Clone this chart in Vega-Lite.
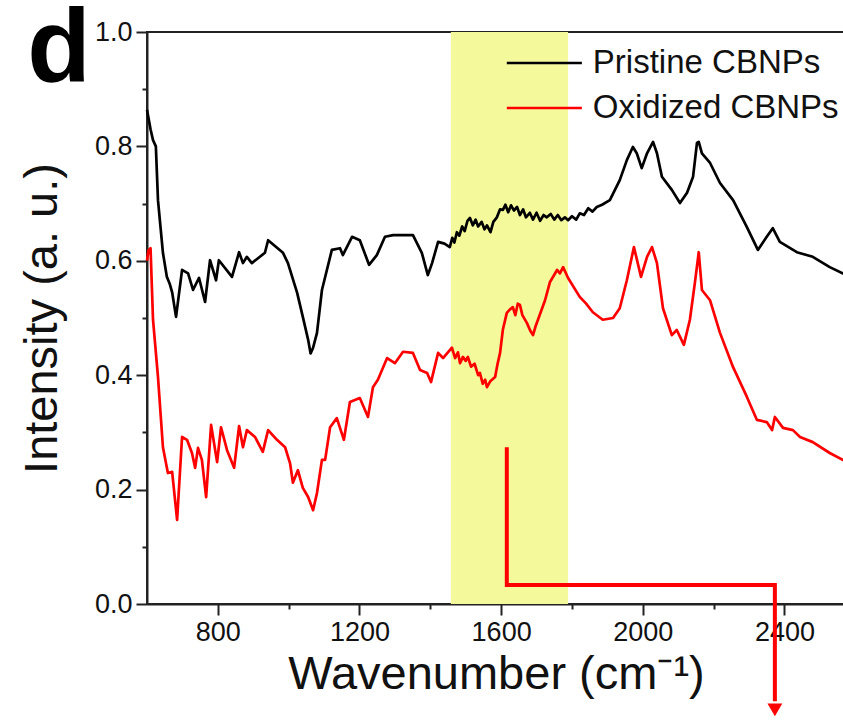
{
  "$schema": "https://vega.github.io/schema/vega-lite/v6.json",
  "width": 698,
  "height": 572,
  "autosize": {"type": "none"},
  "padding": {"left": 147, "top": 32, "right": 0, "bottom": 117},
  "background": "white",
  "config": {
    "view": {"stroke": "#222", "strokeWidth": 2},
    "font": "Liberation Sans"
  },
  "datasets": {
    "spectra": [
      {"series": "Pristine CBNPs", "wn": 600, "intensity": 0.864},
      {"series": "Pristine CBNPs", "wn": 610, "intensity": 0.83},
      {"series": "Pristine CBNPs", "wn": 617, "intensity": 0.811},
      {"series": "Pristine CBNPs", "wn": 625, "intensity": 0.8},
      {"series": "Pristine CBNPs", "wn": 631, "intensity": 0.706},
      {"series": "Pristine CBNPs", "wn": 645, "intensity": 0.614},
      {"series": "Pristine CBNPs", "wn": 656, "intensity": 0.572},
      {"series": "Pristine CBNPs", "wn": 664, "intensity": 0.56},
      {"series": "Pristine CBNPs", "wn": 671, "intensity": 0.545},
      {"series": "Pristine CBNPs", "wn": 682, "intensity": 0.502},
      {"series": "Pristine CBNPs", "wn": 699, "intensity": 0.584},
      {"series": "Pristine CBNPs", "wn": 716, "intensity": 0.578},
      {"series": "Pristine CBNPs", "wn": 730, "intensity": 0.549},
      {"series": "Pristine CBNPs", "wn": 747, "intensity": 0.57},
      {"series": "Pristine CBNPs", "wn": 764, "intensity": 0.528},
      {"series": "Pristine CBNPs", "wn": 778, "intensity": 0.601},
      {"series": "Pristine CBNPs", "wn": 795, "intensity": 0.566},
      {"series": "Pristine CBNPs", "wn": 803, "intensity": 0.601},
      {"series": "Pristine CBNPs", "wn": 840, "intensity": 0.572},
      {"series": "Pristine CBNPs", "wn": 860, "intensity": 0.615},
      {"series": "Pristine CBNPs", "wn": 871, "intensity": 0.596},
      {"series": "Pristine CBNPs", "wn": 882, "intensity": 0.607},
      {"series": "Pristine CBNPs", "wn": 896, "intensity": 0.596},
      {"series": "Pristine CBNPs", "wn": 933, "intensity": 0.614},
      {"series": "Pristine CBNPs", "wn": 942, "intensity": 0.636},
      {"series": "Pristine CBNPs", "wn": 984, "intensity": 0.614},
      {"series": "Pristine CBNPs", "wn": 998, "intensity": 0.596},
      {"series": "Pristine CBNPs", "wn": 1024, "intensity": 0.544},
      {"series": "Pristine CBNPs", "wn": 1040, "intensity": 0.502},
      {"series": "Pristine CBNPs", "wn": 1055, "intensity": 0.462},
      {"series": "Pristine CBNPs", "wn": 1062, "intensity": 0.438},
      {"series": "Pristine CBNPs", "wn": 1069, "intensity": 0.448},
      {"series": "Pristine CBNPs", "wn": 1080, "intensity": 0.474},
      {"series": "Pristine CBNPs", "wn": 1094, "intensity": 0.549},
      {"series": "Pristine CBNPs", "wn": 1122, "intensity": 0.619},
      {"series": "Pristine CBNPs", "wn": 1145, "intensity": 0.622},
      {"series": "Pristine CBNPs", "wn": 1153, "intensity": 0.61},
      {"series": "Pristine CBNPs", "wn": 1179, "intensity": 0.642},
      {"series": "Pristine CBNPs", "wn": 1201, "intensity": 0.636},
      {"series": "Pristine CBNPs", "wn": 1227, "intensity": 0.593},
      {"series": "Pristine CBNPs", "wn": 1249, "intensity": 0.61},
      {"series": "Pristine CBNPs", "wn": 1272, "intensity": 0.642},
      {"series": "Pristine CBNPs", "wn": 1295, "intensity": 0.645},
      {"series": "Pristine CBNPs", "wn": 1351, "intensity": 0.645},
      {"series": "Pristine CBNPs", "wn": 1376, "intensity": 0.614},
      {"series": "Pristine CBNPs", "wn": 1393, "intensity": 0.575},
      {"series": "Pristine CBNPs", "wn": 1405, "intensity": 0.596},
      {"series": "Pristine CBNPs", "wn": 1422, "intensity": 0.633},
      {"series": "Pristine CBNPs", "wn": 1440, "intensity": 0.63},
      {"series": "Pristine CBNPs", "wn": 1455, "intensity": 0.624},
      {"series": "Pristine CBNPs", "wn": 1462, "intensity": 0.64},
      {"series": "Pristine CBNPs", "wn": 1468, "intensity": 0.632},
      {"series": "Pristine CBNPs", "wn": 1475, "intensity": 0.65},
      {"series": "Pristine CBNPs", "wn": 1482, "intensity": 0.644},
      {"series": "Pristine CBNPs", "wn": 1490, "intensity": 0.66},
      {"series": "Pristine CBNPs", "wn": 1497, "intensity": 0.652},
      {"series": "Pristine CBNPs", "wn": 1505, "intensity": 0.67},
      {"series": "Pristine CBNPs", "wn": 1512, "intensity": 0.675},
      {"series": "Pristine CBNPs", "wn": 1520, "intensity": 0.662},
      {"series": "Pristine CBNPs", "wn": 1528, "intensity": 0.672},
      {"series": "Pristine CBNPs", "wn": 1535, "intensity": 0.66},
      {"series": "Pristine CBNPs", "wn": 1545, "intensity": 0.668},
      {"series": "Pristine CBNPs", "wn": 1553, "intensity": 0.655},
      {"series": "Pristine CBNPs", "wn": 1560, "intensity": 0.662},
      {"series": "Pristine CBNPs", "wn": 1570, "intensity": 0.65},
      {"series": "Pristine CBNPs", "wn": 1578, "intensity": 0.668},
      {"series": "Pristine CBNPs", "wn": 1588, "intensity": 0.676},
      {"series": "Pristine CBNPs", "wn": 1597, "intensity": 0.69},
      {"series": "Pristine CBNPs", "wn": 1605, "intensity": 0.689},
      {"series": "Pristine CBNPs", "wn": 1612, "intensity": 0.698},
      {"series": "Pristine CBNPs", "wn": 1620, "intensity": 0.685},
      {"series": "Pristine CBNPs", "wn": 1628, "intensity": 0.697},
      {"series": "Pristine CBNPs", "wn": 1636, "intensity": 0.688},
      {"series": "Pristine CBNPs", "wn": 1645, "intensity": 0.694},
      {"series": "Pristine CBNPs", "wn": 1653, "intensity": 0.68},
      {"series": "Pristine CBNPs", "wn": 1662, "intensity": 0.69},
      {"series": "Pristine CBNPs", "wn": 1670, "intensity": 0.676},
      {"series": "Pristine CBNPs", "wn": 1681, "intensity": 0.684},
      {"series": "Pristine CBNPs", "wn": 1690, "intensity": 0.672},
      {"series": "Pristine CBNPs", "wn": 1700, "intensity": 0.684},
      {"series": "Pristine CBNPs", "wn": 1710, "intensity": 0.67},
      {"series": "Pristine CBNPs", "wn": 1720, "intensity": 0.68},
      {"series": "Pristine CBNPs", "wn": 1729, "intensity": 0.676},
      {"series": "Pristine CBNPs", "wn": 1740, "intensity": 0.682},
      {"series": "Pristine CBNPs", "wn": 1750, "intensity": 0.672},
      {"series": "Pristine CBNPs", "wn": 1760, "intensity": 0.68},
      {"series": "Pristine CBNPs", "wn": 1770, "intensity": 0.671},
      {"series": "Pristine CBNPs", "wn": 1780, "intensity": 0.676},
      {"series": "Pristine CBNPs", "wn": 1789, "intensity": 0.671},
      {"series": "Pristine CBNPs", "wn": 1800, "intensity": 0.678},
      {"series": "Pristine CBNPs", "wn": 1812, "intensity": 0.672},
      {"series": "Pristine CBNPs", "wn": 1822, "intensity": 0.683},
      {"series": "Pristine CBNPs", "wn": 1834, "intensity": 0.68},
      {"series": "Pristine CBNPs", "wn": 1846, "intensity": 0.692},
      {"series": "Pristine CBNPs", "wn": 1858, "intensity": 0.686},
      {"series": "Pristine CBNPs", "wn": 1870, "intensity": 0.694},
      {"series": "Pristine CBNPs", "wn": 1885, "intensity": 0.698},
      {"series": "Pristine CBNPs", "wn": 1907, "intensity": 0.706},
      {"series": "Pristine CBNPs", "wn": 1935, "intensity": 0.741},
      {"series": "Pristine CBNPs", "wn": 1955, "intensity": 0.776},
      {"series": "Pristine CBNPs", "wn": 1972, "intensity": 0.799},
      {"series": "Pristine CBNPs", "wn": 1983, "intensity": 0.788},
      {"series": "Pristine CBNPs", "wn": 1997, "intensity": 0.762},
      {"series": "Pristine CBNPs", "wn": 2012, "intensity": 0.788},
      {"series": "Pristine CBNPs", "wn": 2029, "intensity": 0.808},
      {"series": "Pristine CBNPs", "wn": 2040, "intensity": 0.788},
      {"series": "Pristine CBNPs", "wn": 2054, "intensity": 0.747},
      {"series": "Pristine CBNPs", "wn": 2082, "intensity": 0.724},
      {"series": "Pristine CBNPs", "wn": 2105, "intensity": 0.701},
      {"series": "Pristine CBNPs", "wn": 2125, "intensity": 0.719},
      {"series": "Pristine CBNPs", "wn": 2142, "intensity": 0.747},
      {"series": "Pristine CBNPs", "wn": 2153, "intensity": 0.806},
      {"series": "Pristine CBNPs", "wn": 2158, "intensity": 0.808},
      {"series": "Pristine CBNPs", "wn": 2167, "intensity": 0.788},
      {"series": "Pristine CBNPs", "wn": 2190, "intensity": 0.771},
      {"series": "Pristine CBNPs", "wn": 2218, "intensity": 0.736},
      {"series": "Pristine CBNPs", "wn": 2255, "intensity": 0.706},
      {"series": "Pristine CBNPs", "wn": 2294, "intensity": 0.659},
      {"series": "Pristine CBNPs", "wn": 2325, "intensity": 0.619},
      {"series": "Pristine CBNPs", "wn": 2350, "intensity": 0.642},
      {"series": "Pristine CBNPs", "wn": 2367, "intensity": 0.657},
      {"series": "Pristine CBNPs", "wn": 2387, "intensity": 0.633},
      {"series": "Pristine CBNPs", "wn": 2435, "intensity": 0.615},
      {"series": "Pristine CBNPs", "wn": 2480, "intensity": 0.607},
      {"series": "Pristine CBNPs", "wn": 2528, "intensity": 0.589},
      {"series": "Pristine CBNPs", "wn": 2571, "intensity": 0.576},
      {"series": "Oxidized CBNPs", "wn": 600, "intensity": 0.6},
      {"series": "Oxidized CBNPs", "wn": 604, "intensity": 0.618},
      {"series": "Oxidized CBNPs", "wn": 610, "intensity": 0.622},
      {"series": "Oxidized CBNPs", "wn": 617, "intensity": 0.497},
      {"series": "Oxidized CBNPs", "wn": 631, "intensity": 0.397},
      {"series": "Oxidized CBNPs", "wn": 645, "intensity": 0.274},
      {"series": "Oxidized CBNPs", "wn": 659, "intensity": 0.229},
      {"series": "Oxidized CBNPs", "wn": 671, "intensity": 0.231},
      {"series": "Oxidized CBNPs", "wn": 685, "intensity": 0.147},
      {"series": "Oxidized CBNPs", "wn": 699, "intensity": 0.292},
      {"series": "Oxidized CBNPs", "wn": 713, "intensity": 0.287},
      {"series": "Oxidized CBNPs", "wn": 727, "intensity": 0.264},
      {"series": "Oxidized CBNPs", "wn": 736, "intensity": 0.238},
      {"series": "Oxidized CBNPs", "wn": 744, "intensity": 0.273},
      {"series": "Oxidized CBNPs", "wn": 755, "intensity": 0.252},
      {"series": "Oxidized CBNPs", "wn": 767, "intensity": 0.187},
      {"series": "Oxidized CBNPs", "wn": 781, "intensity": 0.313},
      {"series": "Oxidized CBNPs", "wn": 798, "intensity": 0.248},
      {"series": "Oxidized CBNPs", "wn": 809, "intensity": 0.309},
      {"series": "Oxidized CBNPs", "wn": 826, "intensity": 0.269},
      {"series": "Oxidized CBNPs", "wn": 846, "intensity": 0.238},
      {"series": "Oxidized CBNPs", "wn": 860, "intensity": 0.311},
      {"series": "Oxidized CBNPs", "wn": 871, "intensity": 0.274},
      {"series": "Oxidized CBNPs", "wn": 882, "intensity": 0.304},
      {"series": "Oxidized CBNPs", "wn": 905, "intensity": 0.292},
      {"series": "Oxidized CBNPs", "wn": 927, "intensity": 0.266},
      {"series": "Oxidized CBNPs", "wn": 942, "intensity": 0.304},
      {"series": "Oxidized CBNPs", "wn": 967, "intensity": 0.287},
      {"series": "Oxidized CBNPs", "wn": 990, "intensity": 0.274},
      {"series": "Oxidized CBNPs", "wn": 1004, "intensity": 0.246},
      {"series": "Oxidized CBNPs", "wn": 1012, "intensity": 0.212},
      {"series": "Oxidized CBNPs", "wn": 1026, "intensity": 0.234},
      {"series": "Oxidized CBNPs", "wn": 1040, "intensity": 0.203},
      {"series": "Oxidized CBNPs", "wn": 1055, "intensity": 0.187},
      {"series": "Oxidized CBNPs", "wn": 1069, "intensity": 0.164},
      {"series": "Oxidized CBNPs", "wn": 1080, "intensity": 0.194},
      {"series": "Oxidized CBNPs", "wn": 1094, "intensity": 0.252},
      {"series": "Oxidized CBNPs", "wn": 1103, "intensity": 0.252},
      {"series": "Oxidized CBNPs", "wn": 1117, "intensity": 0.309},
      {"series": "Oxidized CBNPs", "wn": 1136, "intensity": 0.325},
      {"series": "Oxidized CBNPs", "wn": 1156, "intensity": 0.287},
      {"series": "Oxidized CBNPs", "wn": 1173, "intensity": 0.353},
      {"series": "Oxidized CBNPs", "wn": 1201, "intensity": 0.36},
      {"series": "Oxidized CBNPs", "wn": 1224, "intensity": 0.327},
      {"series": "Oxidized CBNPs", "wn": 1238, "intensity": 0.379},
      {"series": "Oxidized CBNPs", "wn": 1252, "intensity": 0.392},
      {"series": "Oxidized CBNPs", "wn": 1278, "intensity": 0.43},
      {"series": "Oxidized CBNPs", "wn": 1300, "intensity": 0.421},
      {"series": "Oxidized CBNPs", "wn": 1323, "intensity": 0.441},
      {"series": "Oxidized CBNPs", "wn": 1351, "intensity": 0.439},
      {"series": "Oxidized CBNPs", "wn": 1371, "intensity": 0.409},
      {"series": "Oxidized CBNPs", "wn": 1391, "intensity": 0.404},
      {"series": "Oxidized CBNPs", "wn": 1402, "intensity": 0.388},
      {"series": "Oxidized CBNPs", "wn": 1422, "intensity": 0.439},
      {"series": "Oxidized CBNPs", "wn": 1436, "intensity": 0.43},
      {"series": "Oxidized CBNPs", "wn": 1461, "intensity": 0.448},
      {"series": "Oxidized CBNPs", "wn": 1470, "intensity": 0.43},
      {"series": "Oxidized CBNPs", "wn": 1478, "intensity": 0.44},
      {"series": "Oxidized CBNPs", "wn": 1484, "intensity": 0.421},
      {"series": "Oxidized CBNPs", "wn": 1492, "intensity": 0.432},
      {"series": "Oxidized CBNPs", "wn": 1500, "intensity": 0.425},
      {"series": "Oxidized CBNPs", "wn": 1506, "intensity": 0.432},
      {"series": "Oxidized CBNPs", "wn": 1515, "intensity": 0.415},
      {"series": "Oxidized CBNPs", "wn": 1525, "intensity": 0.42},
      {"series": "Oxidized CBNPs", "wn": 1535, "intensity": 0.4},
      {"series": "Oxidized CBNPs", "wn": 1540, "intensity": 0.404},
      {"series": "Oxidized CBNPs", "wn": 1548, "intensity": 0.385},
      {"series": "Oxidized CBNPs", "wn": 1555, "intensity": 0.392},
      {"series": "Oxidized CBNPs", "wn": 1560, "intensity": 0.379},
      {"series": "Oxidized CBNPs", "wn": 1570, "intensity": 0.39},
      {"series": "Oxidized CBNPs", "wn": 1583, "intensity": 0.397},
      {"series": "Oxidized CBNPs", "wn": 1590, "intensity": 0.42},
      {"series": "Oxidized CBNPs", "wn": 1597, "intensity": 0.439},
      {"series": "Oxidized CBNPs", "wn": 1605, "intensity": 0.48},
      {"series": "Oxidized CBNPs", "wn": 1616, "intensity": 0.509},
      {"series": "Oxidized CBNPs", "wn": 1625, "intensity": 0.515},
      {"series": "Oxidized CBNPs", "wn": 1633, "intensity": 0.519},
      {"series": "Oxidized CBNPs", "wn": 1640, "intensity": 0.505},
      {"series": "Oxidized CBNPs", "wn": 1647, "intensity": 0.525},
      {"series": "Oxidized CBNPs", "wn": 1653, "intensity": 0.523},
      {"series": "Oxidized CBNPs", "wn": 1660, "intensity": 0.505},
      {"series": "Oxidized CBNPs", "wn": 1673, "intensity": 0.491},
      {"series": "Oxidized CBNPs", "wn": 1682, "intensity": 0.478},
      {"series": "Oxidized CBNPs", "wn": 1690, "intensity": 0.47},
      {"series": "Oxidized CBNPs", "wn": 1697, "intensity": 0.485},
      {"series": "Oxidized CBNPs", "wn": 1704, "intensity": 0.497},
      {"series": "Oxidized CBNPs", "wn": 1724, "intensity": 0.531},
      {"series": "Oxidized CBNPs", "wn": 1738, "intensity": 0.563},
      {"series": "Oxidized CBNPs", "wn": 1758, "intensity": 0.584},
      {"series": "Oxidized CBNPs", "wn": 1766, "intensity": 0.578},
      {"series": "Oxidized CBNPs", "wn": 1775, "intensity": 0.589},
      {"series": "Oxidized CBNPs", "wn": 1789, "intensity": 0.57},
      {"series": "Oxidized CBNPs", "wn": 1822, "intensity": 0.537},
      {"series": "Oxidized CBNPs", "wn": 1840, "intensity": 0.525},
      {"series": "Oxidized CBNPs", "wn": 1859, "intensity": 0.51},
      {"series": "Oxidized CBNPs", "wn": 1887, "intensity": 0.497},
      {"series": "Oxidized CBNPs", "wn": 1916, "intensity": 0.5},
      {"series": "Oxidized CBNPs", "wn": 1935, "intensity": 0.517},
      {"series": "Oxidized CBNPs", "wn": 1955, "intensity": 0.566},
      {"series": "Oxidized CBNPs", "wn": 1975, "intensity": 0.624},
      {"series": "Oxidized CBNPs", "wn": 1995, "intensity": 0.572},
      {"series": "Oxidized CBNPs", "wn": 2012, "intensity": 0.607},
      {"series": "Oxidized CBNPs", "wn": 2026, "intensity": 0.624},
      {"series": "Oxidized CBNPs", "wn": 2040, "intensity": 0.596},
      {"series": "Oxidized CBNPs", "wn": 2057, "intensity": 0.517},
      {"series": "Oxidized CBNPs", "wn": 2082, "intensity": 0.47},
      {"series": "Oxidized CBNPs", "wn": 2096, "intensity": 0.479},
      {"series": "Oxidized CBNPs", "wn": 2116, "intensity": 0.453},
      {"series": "Oxidized CBNPs", "wn": 2133, "intensity": 0.497},
      {"series": "Oxidized CBNPs", "wn": 2147, "intensity": 0.561},
      {"series": "Oxidized CBNPs", "wn": 2158, "intensity": 0.615},
      {"series": "Oxidized CBNPs", "wn": 2167, "intensity": 0.549},
      {"series": "Oxidized CBNPs", "wn": 2190, "intensity": 0.531},
      {"series": "Oxidized CBNPs", "wn": 2218, "intensity": 0.474},
      {"series": "Oxidized CBNPs", "wn": 2255, "intensity": 0.414},
      {"series": "Oxidized CBNPs", "wn": 2294, "intensity": 0.362},
      {"series": "Oxidized CBNPs", "wn": 2322, "intensity": 0.322},
      {"series": "Oxidized CBNPs", "wn": 2350, "intensity": 0.318},
      {"series": "Oxidized CBNPs", "wn": 2365, "intensity": 0.304},
      {"series": "Oxidized CBNPs", "wn": 2373, "intensity": 0.327},
      {"series": "Oxidized CBNPs", "wn": 2396, "intensity": 0.308},
      {"series": "Oxidized CBNPs", "wn": 2424, "intensity": 0.304},
      {"series": "Oxidized CBNPs", "wn": 2444, "intensity": 0.292},
      {"series": "Oxidized CBNPs", "wn": 2480, "intensity": 0.283},
      {"series": "Oxidized CBNPs", "wn": 2528, "intensity": 0.264},
      {"series": "Oxidized CBNPs", "wn": 2571, "intensity": 0.25}
    ],
    "band": [{"wn": 1458, "wn2": 1789, "intensity": 0, "intensity2": 1}],
    "legendItems": [
      {"series": "Pristine CBNPs", "wn": 1616, "wn2": 1828, "intensity": 0.946, "labelWn": 1859},
      {"series": "Oxidized CBNPs", "wn": 1616, "wn2": 1828, "intensity": 0.867, "labelWn": 1859}
    ],
    "panelLabel": [{"label": "d", "wn": 262, "intensity": 0.914}],
    "arrow": [
      {"k": 1, "wn": 1616, "intensity": 0.274},
      {"k": 2, "wn": 1616, "intensity": 0.033},
      {"k": 3, "wn": 2373, "intensity": 0.033},
      {"k": 4, "wn": 2373, "intensity": -0.17}
    ],
    "arrowHead": [{"wn": 2373, "intensity": -0.185}]
  },
  "encoding": {
    "x": {
      "field": "wn",
      "type": "quantitative",
      "title": "Wavenumber (cm⁻¹)",
      "scale": {"domain": [600, 2571], "nice": false, "zero": false},
      "axis": {
        "values": [800, 1000, 1200, 1400, 1600, 1800, 2000, 2200, 2400],
        "labelExpr": "datum.value % 400 === 0 ? datum.label : ''",
        "format": "d",
        "grid": false,
        "domainColor": "#222",
        "domainWidth": 2,
        "tickColor": "#222",
        "tickWidth": 2,
        "tickSize": {"condition": {"test": "datum.value % 400 === 0", "value": 11}, "value": 5},
        "labelFont": "Liberation Sans",
        "labelFontSize": 27,
        "labelColor": "#111",
        "labelPadding": 4,
        "titleFont": "Liberation Sans",
        "titleFontSize": 47,
        "titleFontWeight": "normal",
        "titleColor": "#111",
        "titlePadding": 6
      }
    },
    "y": {
      "field": "intensity",
      "type": "quantitative",
      "title": "Intensity (a. u.)",
      "scale": {"domain": [0, 1], "nice": false},
      "axis": {
        "values": [0, 0.1, 0.2, 0.3, 0.4, 0.5, 0.6, 0.7, 0.8, 0.9, 1.0],
        "format": ".1f",
        "labelExpr": "round(datum.value * 10) % 2 === 0 ? datum.label : ''",
        "grid": false,
        "domainColor": "#222",
        "domainWidth": 2,
        "tickColor": "#222",
        "tickWidth": 2,
        "tickSize": {"condition": {"test": "round(datum.value * 10) % 2 === 0", "value": 11}, "value": 5},
        "labelFont": "Liberation Sans",
        "labelFontSize": 27,
        "labelColor": "#111",
        "labelPadding": 4,
        "titleFont": "Liberation Sans",
        "titleFontSize": 47,
        "titleFontWeight": "normal",
        "titleColor": "#111",
        "titlePadding": 28
      }
    }
  },
  "layer": [
    {
      "data": {"name": "band"},
      "mark": {"type": "rect", "color": "#f4f99c"},
      "encoding": {
        "x2": {"field": "wn2"},
        "y2": {"field": "intensity2"}
      }
    },
    {
      "data": {"name": "spectra"},
      "mark": {"type": "line", "strokeWidth": 2.7, "strokeJoin": "round"},
      "encoding": {
        "color": {
          "field": "series",
          "type": "nominal",
          "scale": {"domain": ["Pristine CBNPs", "Oxidized CBNPs"], "range": ["#000000", "#ff0000"]},
          "legend": null
        }
      }
    },
    {
      "data": {"name": "legendItems"},
      "mark": {"type": "rule", "strokeWidth": 2.5},
      "encoding": {
        "x2": {"field": "wn2"},
        "color": {"field": "series", "type": "nominal", "legend": null}
      }
    },
    {
      "data": {"name": "legendItems"},
      "mark": {"type": "text", "align": "left", "baseline": "middle", "font": "Liberation Sans", "fontSize": 33, "color": "#111"},
      "encoding": {
        "x": {"field": "labelWn", "type": "quantitative"},
        "text": {"field": "series"}
      }
    },
    {
      "data": {"name": "panelLabel"},
      "mark": {"type": "text", "align": "left", "baseline": "alphabetic", "font": "Liberation Sans", "fontSize": 104, "fontWeight": "bold", "color": "#000", "clip": false},
      "encoding": {
        "text": {"field": "label"}
      }
    },
    {
      "data": {"name": "arrow"},
      "mark": {"type": "line", "color": "#ff0000", "strokeWidth": 4, "strokeJoin": "miter", "clip": false},
      "encoding": {
        "order": {"field": "k", "type": "quantitative"}
      }
    },
    {
      "data": {"name": "arrowHead"},
      "mark": {"type": "point", "shape": "triangle-down", "filled": true, "color": "#ff0000", "size": 220, "opacity": 1},
      "encoding": {}
    }
  ]
}
